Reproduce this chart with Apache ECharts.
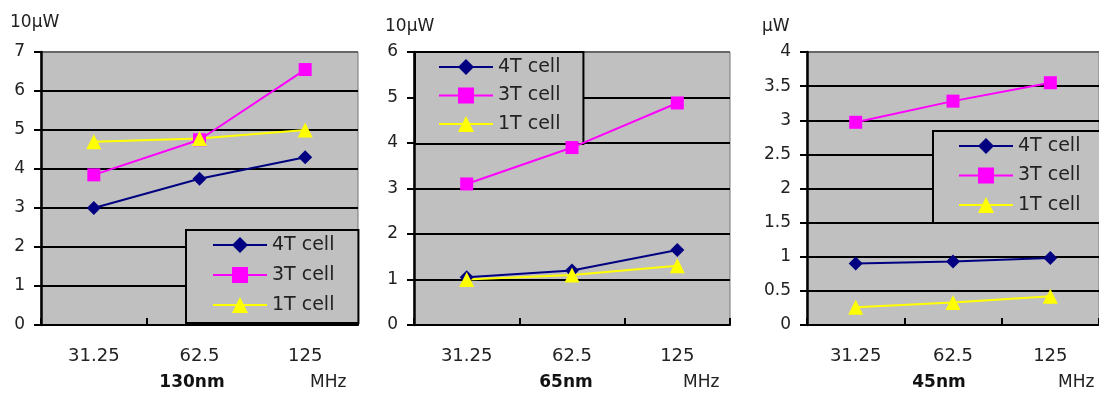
<!DOCTYPE html>
<html>
<head>
<meta charset="utf-8">
<script src="https://cdn.jsdelivr.net/npm/echarts@6/dist/echarts.min.js"></script>
<style>
  html, body { margin: 0; padding: 0; background: #fff; }
  #chart { width: 1099px; height: 394px; }
</style>
</head>
<body>
<div id="chart"></div>
<script>
// Clock frequencies (MHz) shared by all three process nodes
const freqLabels = ['31.25', '62.5', '125'];
const seriesNames = ['4T cell', '3T cell', '1T cell'];

// 130nm node, unit 10 µW
const nm130_4T = [3.0, 3.75, 4.3];
const nm130_3T = [3.85, 4.75, 6.55];
const nm130_1T = [4.7, 4.78, 5.0];

// 65nm node, unit 10 µW
const nm65_4T = [1.05, 1.2, 1.65];
const nm65_3T = [3.1, 3.9, 4.88];
const nm65_1T = [1.0, 1.1, 1.3];

// 45nm node, unit µW
const nm45_4T = [0.9, 0.93, 0.98];
const nm45_3T = [2.97, 3.28, 3.55];
const nm45_1T = [0.26, 0.33, 0.42];

// Axis ranges and captions per panel
const yMax = [7, 6, 4];
const yStep = [1, 1, 0.5];
const unitLabels = ['10\u03bcW', '10\u03bcW', '\u03bcW'];
const nodeLabels = ['130nm', '65nm', '45nm'];
const freqUnit = 'MHz';

const panels = [
  [nm130_4T, nm130_3T, nm130_1T],
  [nm65_4T, nm65_3T, nm65_1T],
  [nm45_4T, nm45_3T, nm45_1T]
];

const FONT = 'DejaVu Sans';
const TEXT = '#222';
const PLOT_BG = '#c0c0c0';

const styles = [
  { color: '#000080', symbol: 'diamond', size: 14 },
  { color: '#ff00ff', symbol: 'rect', size: 13 },
  { color: '#ffff00', symbol: 'triangle', size: 15 }
];

// Panel geometry
const grids = [
  { left: 41, top: 52, width: 317, height: 273 },
  { left: 414, top: 52, width: 316, height: 273 },
  { left: 807, top: 52, width: 297, height: 273 }
];

const legends = [
  { left: 186, top: 230, padding: [5, 24, 8, 26], itemGap: 10 },
  { left: 415, top: 52, padding: [5, 23, 10, 23], itemGap: 8.5 },
  { left: 933, top: 131, padding: [5, 40, 8, 25], itemGap: 9.5 }
];

const caption = {
  unit: [[10, 23], [385, 27], [762, 27]],
  node: [192, 566, 939],
  mhz: [310, 683, 1058]
};

function splitColors(n) {
  const c = [];
  for (let i = 0; i < n; i++) c.push('#000');
  c.push('#666');
  return c;
}

const option = {
  animation: false,
  backgroundColor: '#fff',
  grid: grids.map(g => Object.assign({
    show: true,
    backgroundColor: PLOT_BG,
    borderColor: '#777',
    borderWidth: 1,
    containLabel: false
  }, g)),
  xAxis: grids.map((g, i) => ({
    type: 'category',
    gridIndex: i,
    data: freqLabels,
    boundaryGap: true,
    axisLine: { show: true, lineStyle: { color: '#000', width: 2 } },
    axisTick: { show: true, inside: true, length: 7, lineStyle: { color: '#000', width: 2 } },
    axisLabel: { margin: 22, color: TEXT, fontFamily: FONT, fontSize: 18 },
    splitLine: { show: false }
  })),
  yAxis: grids.map((g, i) => ({
    type: 'value',
    gridIndex: i,
    min: 0,
    max: yMax[i],
    interval: yStep[i],
    axisLine: { show: true, lineStyle: { color: '#000', width: 2.5 } },
    axisTick: { show: true, inside: false, length: 7, lineStyle: { color: '#000', width: 2 } },
    axisLabel: { margin: 16, color: TEXT, fontFamily: FONT, fontSize: 17 },
    splitLine: { show: true, lineStyle: { color: splitColors(Math.round(yMax[i] / yStep[i])), width: 2 } }
  })),
  legend: legends.map(l => ({
    left: l.left,
    top: l.top,
    orient: 'vertical',
    padding: l.padding,
    itemGap: l.itemGap,
    itemWidth: 54,
    itemHeight: 20,
    backgroundColor: PLOT_BG,
    borderColor: '#000',
    borderWidth: 2,
    borderRadius: 0,
    z: 1,
    data: seriesNames,
    selectedMode: false,
    textStyle: { color: TEXT, fontFamily: FONT, fontSize: 19, lineHeight: 20 }
  })),
  series: [],
  graphic: []
};

panels.forEach((panel, p) => {
  panel.forEach((values, s) => {
    option.series.push({
      type: 'line',
      name: seriesNames[s],
      xAxisIndex: p,
      yAxisIndex: p,
      data: values,
      z: 3,
      symbol: styles[s].symbol,
      symbolSize: styles[s].size,
      showSymbol: true,
      lineStyle: { color: styles[s].color, width: 2 },
      itemStyle: { color: styles[s].color, borderWidth: 0 }
    });
  });
  option.graphic.push({
    type: 'text',
    x: caption.unit[p][0], y: caption.unit[p][1],
    style: { text: unitLabels[p], fill: TEXT, font: '17px "' + FONT + '"', textAlign: 'left', textVerticalAlign: 'middle' }
  });
  option.graphic.push({
    type: 'text',
    x: caption.node[p], y: 383,
    style: { text: nodeLabels[p], fill: '#111', font: 'bold 17px "' + FONT + '"', textAlign: 'center', textVerticalAlign: 'middle' }
  });
  option.graphic.push({
    type: 'text',
    x: caption.mhz[p], y: 383,
    style: { text: freqUnit, fill: TEXT, font: '17px "' + FONT + '"', textAlign: 'left', textVerticalAlign: 'middle' }
  });
});

const chart = echarts.init(document.getElementById('chart'), null, { renderer: 'canvas' });
chart.setOption(option);
</script>
</body>
</html>
